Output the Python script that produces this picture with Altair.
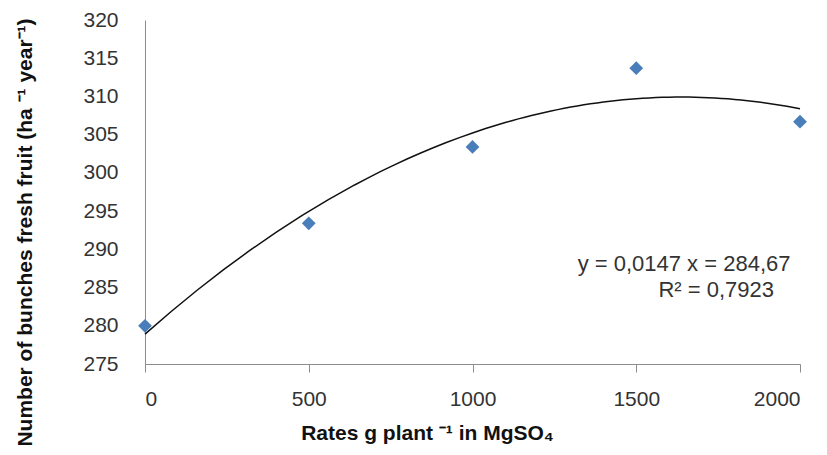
import altair as alt
import pandas as pd

rates = [0, 500, 1000, 1500, 2000]
bunches = [280.0, 293.4, 303.4, 313.7, 306.7]

x_ticks = [0, 500, 1000, 1500, 2000]
y_ticks = [275, 280, 285, 290, 295, 300, 305, 310, 315, 320]

ann_text = ["y = 0,0147 x = 284,67", "R² = 0,7923"]
ann_x = [1646, 1744]
ann_y = [288.1, 284.7]

df = pd.DataFrame({"rate": rates, "bunches": bunches})
ann = pd.DataFrame({"rate": ann_x, "bunches": ann_y, "t": ann_text})

FONT = "Liberation Sans"

xscale = alt.Scale(domain=[0, 2000], nice=False)
yscale = alt.Scale(domain=[275, 320], nice=False, zero=False)

xaxis = alt.Axis(
    values=x_ticks, format="d", grid=False, domainColor="#8c8c8c",
    tickColor="#8c8c8c", tickSize=8, labelFontSize=21, labelColor="#333333",
    labelFont=FONT, labelPadding=16, labelOverlap=False,
    title="Rates g plant ⁻¹ in MgSO₄", titleFont=FONT,
    titleFontSize=21, titleFontWeight="bold", titleColor="#111111",
    titleX=282, titleY=69, titleAlign="center", titleBaseline="middle",
)
yaxis = alt.Axis(
    values=y_ticks, format="d", grid=False, domainColor="#8c8c8c", ticks=False,
    labelFontSize=21, labelColor="#333333", labelFont=FONT, labelPadding=27,
    labelOverlap=False,
    title="Number of bunches fresh fruit (ha ⁻¹ year⁻¹)", titleFont=FONT,
    titleFontSize=21, titleFontWeight="bold", titleColor="#111111",
    titleX=-120, titleY=212, titleAngle=-90, titleAlign="center",
    titleBaseline="middle",
)

X = alt.X("rate:Q", scale=xscale, axis=xaxis)
Y = alt.Y("bunches:Q", scale=yscale, axis=yaxis)

base = alt.Chart(df)

curve = base.transform_regression(
    "rate", "bunches", method="poly", order=2, extent=[0, 2000]
).mark_line(color="#111111", strokeWidth=1.5).encode(x=X, y=Y)

points = base.mark_point(shape="diamond", filled=True, size=190,
                         color="#4a7ebb", opacity=1).encode(x=X, y=Y)

text = alt.Chart(ann).mark_text(
    fontSize=22, font=FONT, color="#333333", align="center", baseline="middle"
).encode(x=X, y=Y, text="t:N")

chart = alt.layer(curve, points, text).properties(
    width=655, height=344,
    autosize=alt.AutoSizeParams(type="none"),
    padding={"left": 137, "top": 12, "right": 19, "bottom": 83},
    background="white",
).configure_view(stroke=None)

chart.save("out.html", embed_options={"renderer": "svg", "actions": False})
